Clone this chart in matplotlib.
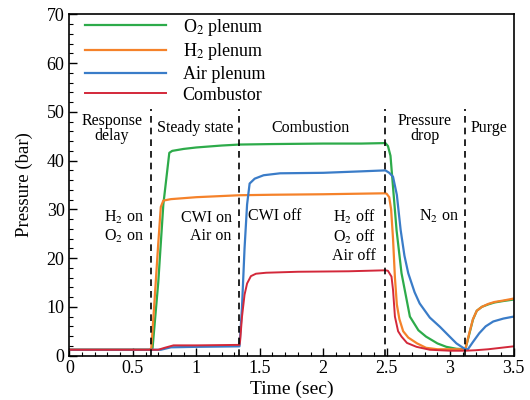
import matplotlib
matplotlib.use("Agg")
import matplotlib.pyplot as plt
from matplotlib.ticker import MultipleLocator

plt.rcParams['font.family'] = ['Liberation Serif', 'DejaVu Serif']
plt.rcParams['mathtext.fontset'] = 'stix'

# O2 plenum
t_o2 = [0, 0.64, 0.655, 0.70, 0.74, 0.787, 0.81, 0.9, 1.0, 1.2, 1.34, 1.6, 2.0, 2.3, 2.49,
        2.51, 2.53, 2.555, 2.578, 2.617, 2.683, 2.75, 2.81, 2.9, 2.97, 3.05, 3.12,
        3.15, 3.18, 3.21, 3.25, 3.3, 3.35, 3.42, 3.5]
p_o2 = [1.2, 1.2, 1.5, 15, 31, 41.6, 42.0, 42.4, 42.7, 43.1, 43.3, 43.4, 43.5, 43.5, 43.6,
        43.0, 41.0, 33, 25.7, 16.9, 8.0, 5.2, 3.9, 2.5, 1.8, 1.4, 1.3,
        4.3, 7.4, 9.2, 10.0, 10.5, 10.9, 11.2, 11.5]

# H2 plenum
t_h2 = [0, 0.63, 0.645, 0.67, 0.70, 0.72, 0.74, 0.8, 1.0, 1.34, 1.6, 2.0, 2.49,
        2.50, 2.52, 2.535, 2.55, 2.565, 2.58, 2.60, 2.63, 2.67, 2.74, 2.81, 2.9, 3.12,
        3.15, 3.18, 3.21, 3.25, 3.3, 3.35, 3.42, 3.5]
p_h2 = [1.2, 1.2, 1.5, 11, 23, 30.5, 31.8, 32.1, 32.5, 32.9, 33.0, 33.1, 33.3,
        33.2, 32.5, 30, 24, 16, 10.5, 7.5, 5.0, 3.7, 2.5, 1.6, 1.3, 1.3,
        4.5, 7.5, 9.2, 10.0, 10.6, 11.0, 11.3, 11.7]

# Air plenum
t_air = [0, 0.72, 0.8, 1.0, 1.34, 1.36, 1.38, 1.40, 1.42, 1.46, 1.53, 1.66, 2.0, 2.3, 2.49,
         2.52, 2.55, 2.58, 2.61, 2.64, 2.67, 2.72, 2.76, 2.84, 2.92, 3.0, 3.05, 3.12,
         3.14, 3.18, 3.23, 3.28, 3.34, 3.42, 3.5]
p_air = [1.2, 1.2, 1.7, 1.8, 1.9, 10, 22, 31, 35.3, 36.3, 37.0, 37.4, 37.5, 37.8, 38.0,
         37.5, 36.7, 33, 25.8, 20.5, 16.9, 13.0, 10.7, 7.8, 5.9, 3.8, 2.5, 1.3,
         1.3, 2.8, 4.6, 6.0, 7.0, 7.6, 8.0]

# Combustor
t_cmb = [0, 0.70, 0.75, 0.82, 1.0, 1.34, 1.345, 1.36, 1.38, 1.40, 1.43, 1.47, 1.55, 1.8,
         2.2, 2.49, 2.51, 2.538, 2.55, 2.565, 2.59, 2.617, 2.66, 2.735, 2.84, 3.0, 3.12,
         3.2, 3.3, 3.4, 3.5]
p_cmb = [1.2, 1.2, 1.6, 2.1, 2.1, 2.2, 3, 8, 12.5, 14.8, 16.3, 16.8, 17.0, 17.2,
         17.3, 17.5, 17.4, 16.2, 13.5, 8.0, 5.0, 3.9, 2.6, 1.8, 1.2, 1.0, 1.0,
         1.1, 1.3, 1.6, 1.9]

events = [0.64, 1.34, 2.49, 3.12]

phases = ["Response\ndelay", "Steady state", "Combustion", "Pressure\ndrop", "Purge"]
phase_x = [0.334, 0.99, 1.90, 2.80, 3.31]

fig = plt.figure(figsize=(5.3, 4.0), dpi=100)
ax = fig.add_axes([0.131, 0.111, 0.838, 0.853])

ax.plot(t_o2, p_o2, color='#2dab4a', lw=1.6, label=r'O$_2$ plenum')
ax.plot(t_h2, p_h2, color='#f5822a', lw=1.6, label=r'H$_2$ plenum')
ax.plot(t_air, p_air, color='#3a7cc8', lw=1.6, label='Air plenum')
ax.plot(t_cmb, p_cmb, color='#d3283a', lw=1.4, label='Combustor')

for te in events:
    ax.plot([te, te], [0, 50.6], color='black', lw=1.2, ls=(0, (4, 3)))

for lab, x in zip(phases, phase_x):
    ax.text(x, 46.6, lab, ha='center', va='center', fontsize=11.5, linespacing=0.95)

ax.text(0.43, 26.4, "H$_2$ on\nO$_2$ on", ha='center', va='center', fontsize=11.5, linespacing=1.15)
ax.text(1.28, 26.4, "CWI on\nAir on", ha='right', va='center', fontsize=11.5, linespacing=1.15)
ax.text(1.41, 28.6, "CWI off", ha='left', va='center', fontsize=11.5)
ax.text(2.415, 24.6, "H$_2$ off\nO$_2$ off\nAir off", ha='right', va='center', fontsize=11.5,
        linespacing=1.15)
ax.text(3.07, 28.6, "N$_2$ on", ha='right', va='center', fontsize=11.5)

ax.set_xlim(0, 3.5)
ax.set_ylim(0, 70)
ax.xaxis.set_major_locator(MultipleLocator(0.5))
ax.xaxis.set_minor_locator(MultipleLocator(0.1))
ax.yaxis.set_major_locator(MultipleLocator(10))
ax.yaxis.set_minor_locator(MultipleLocator(2))
ax.set_xticks([0, 0.5, 1, 1.5, 2, 2.5, 3, 3.5])
ax.set_xticklabels(['0', '0.5', '1', '1.5', '2', '2.5', '3', '3.5'])
ax.tick_params(which='both', direction='in', top=False, right=False, labelsize=13)
ax.tick_params(which='major', length=6, width=1)
ax.tick_params(which='minor', length=3, width=0.8)
for s in ax.spines.values():
    s.set_linewidth(1.2)

ax.set_xlabel('Time (sec)', fontsize=14, labelpad=2)
ax.set_ylabel('Pressure (bar)', fontsize=13.5, labelpad=10)

ax.legend(loc='upper left', frameon=False, fontsize=13, handlelength=4.5,
          handletextpad=0.9, labelspacing=0.2, borderaxespad=0.3,
          bbox_to_anchor=(0.007, 1.03))

fig.savefig('out.png', dpi=100)
